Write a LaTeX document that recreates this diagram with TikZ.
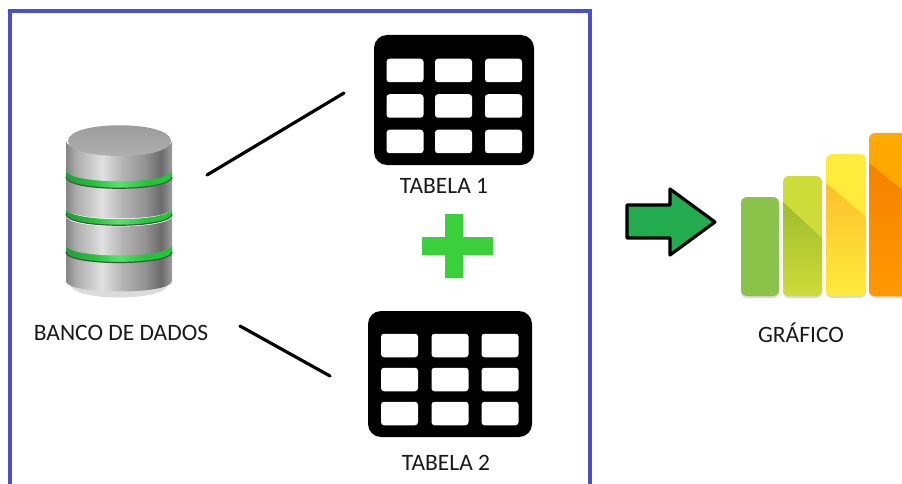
\documentclass[tikz,border=0pt]{standalone}
\usepackage{fontspec}
\setmainfont{Carlito}
\definecolor{greendark}{HTML}{1F9E35}
\definecolor{greenmid}{HTML}{25C23C}
\definecolor{greenlight}{HTML}{55E565}
\definecolor{greenright}{HTML}{14CF2C}
\pgfdeclarehorizontalshading{metalshade}{100bp}{color(0bp)=(black!48); color(25bp)=(black!48); color(30bp)=(black!32); color(42bp)=(black!12); color(52bp)=(black!30); color(62bp)=(black!42); color(70bp)=(black!58); color(75bp)=(black!38); color(100bp)=(black!38)}
\pgfdeclarehorizontalshading{greenshade}{100bp}{color(0bp)=(greendark); color(25bp)=(greendark); color(38bp)=(greenmid); color(50bp)=(greenlight); color(63bp)=(greenmid); color(75bp)=(greenright); color(100bp)=(greenright)}
\definecolor{framecol}{HTML}{4B50C4}
\definecolor{arrowcol}{HTML}{22AB4F}
\definecolor{pluscol}{HTML}{3CCF3C}
\tikzset{
  labeltext/.style={anchor=base, inner sep=0pt, font=\fontsize{23.5}{26}\selectfont, text=black!90},
  tablebox/.style={fill=black, rounded corners=13pt, inner sep=0pt},
  cellbox/.style={fill=white, rounded corners=3pt, inner sep=0pt, minimum width=37pt, minimum height=23.5pt},
  linkline/.style={line width=3.2pt, line cap=round},
  barbox/.style={rounded corners=6pt},
  dbedge/.style={black!70, line width=1.2pt},
}
% one slab of the database: top edge, bottom edge, depth of the curve
\newcommand{\dbslab}[4]{\path[#4] (66,#1) -- (66,#2) .. controls (66,#2+#3) and (172,#2+#3) .. (172,#2) -- (172,#1) .. controls (172,#1+#3) and (66,#1+#3) .. (66,#1) -- cycle;}
\begin{document}
\begin{tikzpicture}[x=1pt,y=-1pt]
\useasboundingbox (0,0) rectangle (902,484);
% blue frame, open at the bottom
\draw[framecol, line width=4.5pt] (10,484) -- (10,11) -- (590,11) -- (590,484);
% database
\fill[black!14] (70,284) .. controls (70,302) and (168,302) .. (168,284) -- cycle;
\dbslab{250}{281}{14}{shading=metalshade}
\dbslab{244}{252}{14}{shading=greenshade}
\draw[dbedge] (66,252) .. controls (66,266) and (172,266) .. (172,252);
\dbslab{216}{245}{14}{shading=metalshade}
\dbslab{208}{214}{15}{shading=greenshade}
\draw[dbedge] (66,214) .. controls (66,229) and (172,229) .. (172,214);
\dbslab{178}{208}{14}{shading=metalshade}
\dbslab{169}{177}{15}{shading=greenshade}
\draw[dbedge] (66,177) .. controls (66,192) and (172,192) .. (172,177);
\dbslab{141}{170}{15}{shading=metalshade}
\path[top color=black!40, bottom color=black!30] (68,141) .. controls (68,120) and (171,120) .. (171,141) .. controls (171,161) and (68,161) .. (68,141) -- cycle;
\node[labeltext] (dbLabel) at (121,340) {BANCO DE DADOS};
% tables
\node[tablebox, minimum width=160pt, minimum height=130pt] (tableOne) at (454,100) {};
\foreach \cx [count=\i] in {405,453.5,503.5}
  \foreach \cy [count=\j] in {70.5,106,141.5}
    \node[cellbox] (one\i\j) at (\cx,\cy) {};
\node[labeltext] (tableOneLabel) at (444,193) {TABELA 1};
\node[tablebox, minimum width=164pt, minimum height=126pt] (tableTwo) at (450,374) {};
\foreach \cx [count=\i] in {399.5,450,500}
  \foreach \cy [count=\j] in {345.5,379.5,413.5}
    \node[cellbox] (two\i\j) at (\cx,\cy) {};
\node[labeltext] (tableTwoLabel) at (446,470) {TABELA 2};
% connectors
\coordinate (dbTop) at (207,175);
\coordinate (tableOneIn) at (344,93);
\coordinate (dbBottom) at (240,326);
\coordinate (tableTwoIn) at (330,376);
\draw[linkline] (dbTop) -- (tableOneIn);
\draw[linkline] (dbBottom) -- (tableTwoIn);
% plus sign
\fill[pluscol] (445,214) -- (463,214) -- (463,237) -- (493,237) -- (493,255) -- (463,255) -- (463,278) -- (445,278) -- (445,255) -- (422,255) -- (422,237) -- (445,237) -- cycle;
% big arrow
\draw[fill=arrowcol, line width=3.2pt, line join=round] (627,205) -- (670,205) -- (670,189) -- (715,222) -- (670,255) -- (670,238) -- (627,238) -- cycle;
% chart bars
\fill[barbox, fill=black!15] (741,199) rectangle (779,298);
\fill[barbox, fill=black!15] (783,199) rectangle (822,298);
\fill[barbox, fill=black!15] (826,199) rectangle (866,298);
\fill[barbox, fill=black!15] (869,199) rectangle (912,298);
\fill[barbox, fill={rgb,255:red,139;green,195;blue,74}] (741,197) rectangle (779,296);
\begin{scope}
\clip[barbox] (783,176) rectangle (822,296);
\fill[fill={rgb,255:red,205;green,220;blue,57}] (783,176) rectangle (822,296);
\shade[top color={rgb,255:red,160;green,188;blue,45}, bottom color={rgb,255:red,205;green,220;blue,57}] (783,202) -- (822,238) -- (822,296) -- (783,296) -- cycle;
\end{scope}
\begin{scope}
\clip[barbox] (826,154) rectangle (866,296);
\fill[fill={rgb,255:red,255;green,235;blue,59}] (826,154) rectangle (866,296);
\shade[top color={rgb,255:red,251;green,192;blue,45}, bottom color={rgb,255:red,255;green,235;blue,59}] (826,183) -- (866,217) -- (866,296) -- (826,296) -- cycle;
\end{scope}
\begin{scope}
\clip[barbox] (869,133) rectangle (912,296);
\shade[top color={rgb,255:red,255;green,170;blue,0}, bottom color={rgb,255:red,255;green,160;blue,0}] (869,133) rectangle (912,296);
\shade[top color={rgb,255:red,245;green,130;blue,0}, bottom color={rgb,255:red,255;green,152;blue,0}] (869,163) -- (902,190) -- (902,296) -- (869,296) -- cycle;
\end{scope}
\node[labeltext] (chartLabel) at (801,342) {GRÁFICO};
\end{tikzpicture}
\end{document}
